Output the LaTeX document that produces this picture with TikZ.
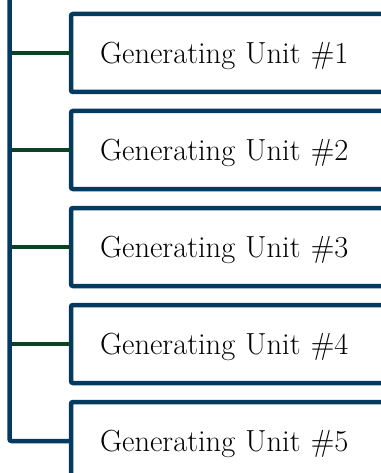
\documentclass[tikz,border=0pt]{standalone}
\usepackage{tikz}
\usetikzlibrary{positioning}

\definecolor{unitblue}{RGB}{5,58,96}
\definecolor{linkgreen}{RGB}{10,66,36}

\begin{document}
\begin{tikzpicture}[x=1pt,y=1pt,
		unit/.style={draw=unitblue, line width=4.5pt, rounded corners=2pt, rectangle,
			minimum height=78pt, text width=330pt, align=left, inner xsep=29pt,
			outer sep=0pt, anchor=west, font=\fontsize{30.5}{33}\selectfont,
			text height=21pt, text depth=0pt},
		link/.style={draw=linkgreen, line width=4.5pt},
		bus/.style={draw=unitblue, line width=4.5pt, rounded corners=2pt},
		node distance=19pt]
	\useasboundingbox (0,0) rectangle (380,-473);

	\node[unit] (u1) at (71,-53)  {Generating Unit \#1};
	\node[unit] (u2) [below=of u1] {Generating Unit \#2};
	\node[unit] (u3) [below=of u2] {Generating Unit \#3};
	\node[unit] (u4) [below=of u3] {Generating Unit \#4};
	\node[unit] (u5) [below=of u4] {Generating Unit \#5};

	\coordinate (top) at (9.5,4);

	\foreach \u in {u1,u2,u3,u4}
		\draw[link] (\u.west) -- (\u.west -| top);

	\draw[bus] (top) |- (u5.west);
\end{tikzpicture}
\end{document}
